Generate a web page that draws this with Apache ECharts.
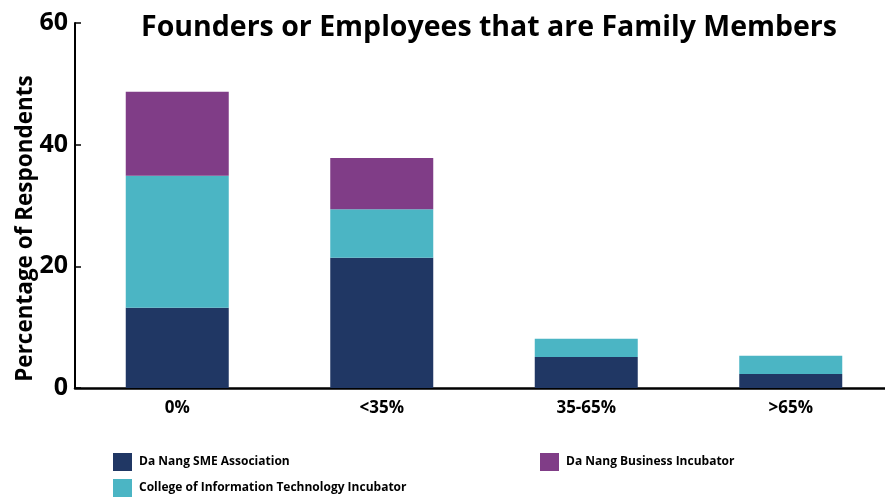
<!DOCTYPE html>
<html>
<head>
<meta charset="utf-8">
<script src="https://cdn.jsdelivr.net/npm/echarts@6/dist/echarts.min.js"></script>
<style>
  html, body { margin: 0; padding: 0; background: #ffffff; }
  #chart { width: 885px; height: 498px; }
</style>
</head>
<body>
<div id="chart"></div>
<script>
// Share of founders/employees who are family members, by organisation
const categories = ['0%', '<35%', '35-65%', '>65%'];
const smeAssociation = [13.2, 21.4, 5.1, 2.3];
const itIncubator = [21.7, 8.0, 3.0, 3.0];
const businessIncubator = [13.8, 8.4, 0, 0];
const yTicks = [0, 20, 40, 60];

const seriesNames = ['Da Nang SME Association', 'College of Information Technology Incubator', 'Da Nang Business Incubator'];
const colors = ['#203764', '#4BB5C4', '#803D87'];
const font = '"Open Sans", "Liberation Sans", sans-serif';

const chart = echarts.init(document.getElementById('chart'));

function legendAt(name, left, top) {
  return {
    data: [name],
    left: left,
    top: top,
    orient: 'horizontal',
    icon: 'rect',
    itemWidth: 19,
    itemHeight: 18,
    itemGap: 0,
    selectedMode: false,
    textStyle: { fontFamily: font, fontWeight: 'bold', fontSize: 12, color: '#000', padding: [0, 0, 0, 2] }
  };
}

chart.setOption({
  animation: false,
  backgroundColor: '#ffffff',
  title: {
    text: 'Founders or Employees that are Family Members',
    left: 484,
    top: 8,
    textAlign: 'center',
    textStyle: { fontFamily: font, fontWeight: 'bold', fontSize: 28.5, color: '#000' }
  },
  legend: [
    legendAt(seriesNames[0], 108, 448),
    legendAt(seriesNames[2], 535, 448),
    legendAt(seriesNames[1], 108, 474)
  ],
  grid: { left: 75, top: 23, width: 818, bottom: 110, outerBoundsMode: 'none', containLabel: false },
  xAxis: {
    type: 'category',
    data: categories,
    axisLine: { lineStyle: { color: '#000', width: 2.5 } },
    axisTick: { show: false },
    axisLabel: { fontFamily: font, fontWeight: 'bold', fontSize: 17, color: '#000', margin: 12 }
  },
  yAxis: {
    type: 'value',
    min: yTicks[0],
    max: yTicks[yTicks.length - 1],
    interval: 20,
    name: 'Percentage of Respondents',
    nameLocation: 'middle',
    nameGap: 38,
    nameMoveOverlap: false,
    nameTextStyle: { fontFamily: font, fontWeight: 'bold', fontSize: 22.5, color: '#000', padding: [0, 46, 0, 0] },
    axisLine: { show: true, lineStyle: { color: '#000', width: 2 } },
    axisTick: { show: true, inside: true, length: 6, lineStyle: { color: '#000', width: 1.5 } },
    splitLine: { show: false },
    axisLabel: { fontFamily: font, fontWeight: 'bold', fontSize: 25, color: '#000', margin: 7 }
  },
  series: [
    { name: seriesNames[0], type: 'bar', stack: 'total', data: smeAssociation, barWidth: 103, itemStyle: { color: colors[0] } },
    { name: seriesNames[1], type: 'bar', stack: 'total', data: itIncubator, barWidth: 103, itemStyle: { color: colors[1] } },
    { name: seriesNames[2], type: 'bar', stack: 'total', data: businessIncubator, barWidth: 103, itemStyle: { color: colors[2] } }
  ]
});
</script>
</body>
</html>
